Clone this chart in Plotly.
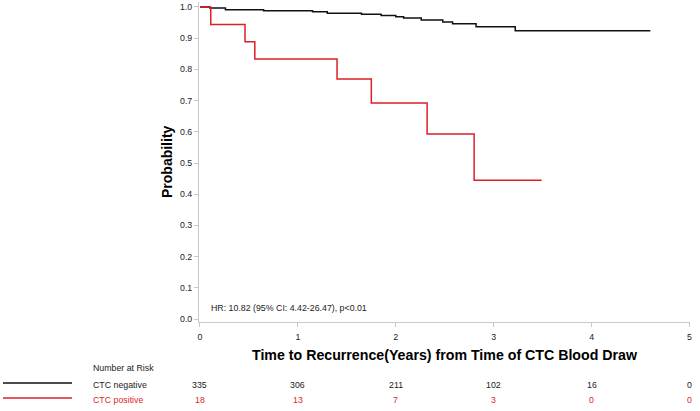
import plotly.graph_objects as go

# Kaplan-Meier step data (event times in years, survival probability)
neg_times = [0, 0.10, 0.26, 0.65, 1.15, 1.30, 1.65, 1.85, 2.00, 2.08, 2.26, 2.48, 2.58, 2.82, 3.22, 4.60]
neg_surv = [1.0, 0.997, 0.991, 0.988, 0.985, 0.980, 0.977, 0.973, 0.969, 0.965, 0.958, 0.952, 0.946, 0.937, 0.924, 0.924]

pos_times = [0, 0.11, 0.46, 0.56, 1.40, 1.75, 2.32, 2.80, 3.49]
pos_surv = [1.0, 0.944, 0.889, 0.833, 0.769, 0.692, 0.593, 0.445, 0.445]

risk_times = [0, 1, 2, 3, 4, 5]
risk_neg = [335, 306, 211, 102, 16, 0]
risk_pos = [18, 13, 7, 3, 0, 0]

y_ticks = [0.0, 0.1, 0.2, 0.3, 0.4, 0.5, 0.6, 0.7, 0.8, 0.9, 1.0]

BLACK = "#111111"
RED = "#dd1f26"
FONT = "Liberation Sans, Arial, sans-serif"
SMALL = 8.8

fig = go.Figure()
fig.add_trace(go.Scatter(x=neg_times, y=neg_surv, mode="lines", line=dict(shape="hv", color=BLACK, width=1.5),
                         name="CTC negative", showlegend=False))
fig.add_trace(go.Scatter(x=pos_times, y=pos_surv, mode="lines", line=dict(shape="hv", color=RED, width=1.5),
                         name="CTC positive", showlegend=False))

W, H = 700, 411
ml, mr, mt, mb = 199, 10, 2, 89
pw = W - ml - mr
ph = H - mt - mb

def px_x(px):
    return (px - ml) / pw

def px_y(py):
    return (H - mb - py) / ph

def ann(text, x, y, xref="paper", color="#222", size=SMALL, xanchor="center", **kw):
    return dict(text=text, x=x, y=y, xref=xref, yref="paper", xanchor=xanchor, yanchor="middle",
                showarrow=False, font=dict(size=size, color=color, family=FONT), **kw)

annotations = [
    ann("<b>Probability</b>", px_x(167), 0.5, size=14, color="#000", textangle=-90),
    ann("<b>Time to Recurrence(Years) from Time of CTC Blood Draw</b>", px_x(445), px_y(355), size=14.2, color="#000"),
    ann("HR: 10.82 (95% CI: 4.42-26.47), p<0.01", px_x(209), px_y(308), xanchor="left"),
    ann("Number at Risk", px_x(91), px_y(368), xanchor="left"),
    ann("CTC negative", px_x(91), px_y(385), xanchor="left"),
    ann("CTC positive", px_x(91), px_y(400), xanchor="left", color=RED),
]
for t, n in zip(risk_times, risk_neg):
    annotations.append(ann(str(n), t, px_y(385), xref="x"))
for t, n in zip(risk_times, risk_pos):
    annotations.append(ann(str(n), t, px_y(400), xref="x", color=RED))

shapes = [
    dict(type="line", xref="paper", yref="paper", x0=px_x(3), x1=px_x(72), y0=px_y(383), y1=px_y(383),
         line=dict(color=BLACK, width=1.5)),
    dict(type="line", xref="paper", yref="paper", x0=px_x(3), x1=px_x(72), y0=px_y(398), y1=px_y(398),
         line=dict(color=RED, width=1.5)),
]

fig.update_layout(
    width=W, height=H,
    margin=dict(l=ml, r=mr, t=mt, b=mb),
    plot_bgcolor="white", paper_bgcolor="white",
    font=dict(family=FONT, size=SMALL, color="#222"),
    annotations=annotations, shapes=shapes,
    showlegend=False,
)
fig.update_xaxes(range=[-0.01, 5.005], tickvals=risk_times, ticks="outside", ticklen=4, tickcolor="#c8c8c8",
                 showline=True, linecolor="#c8c8c8", linewidth=1, showgrid=False, zeroline=False,
                 ticklabelstandoff=2, tickfont=dict(size=SMALL, color="#222"))
fig.update_yaxes(range=[-0.0096, 1.016], tickvals=y_ticks, tickformat=".1f", ticks="outside", ticklen=4,
                 tickcolor="#c8c8c8", showline=True, linecolor="#c8c8c8", linewidth=1, showgrid=False,
                 zeroline=False, tickfont=dict(size=SMALL, color="#222"))

fig.write_html("out.html", config={"displayModeBar": False},
               post_script="document.body.style.margin='0';document.body.style.overflow='hidden';")
